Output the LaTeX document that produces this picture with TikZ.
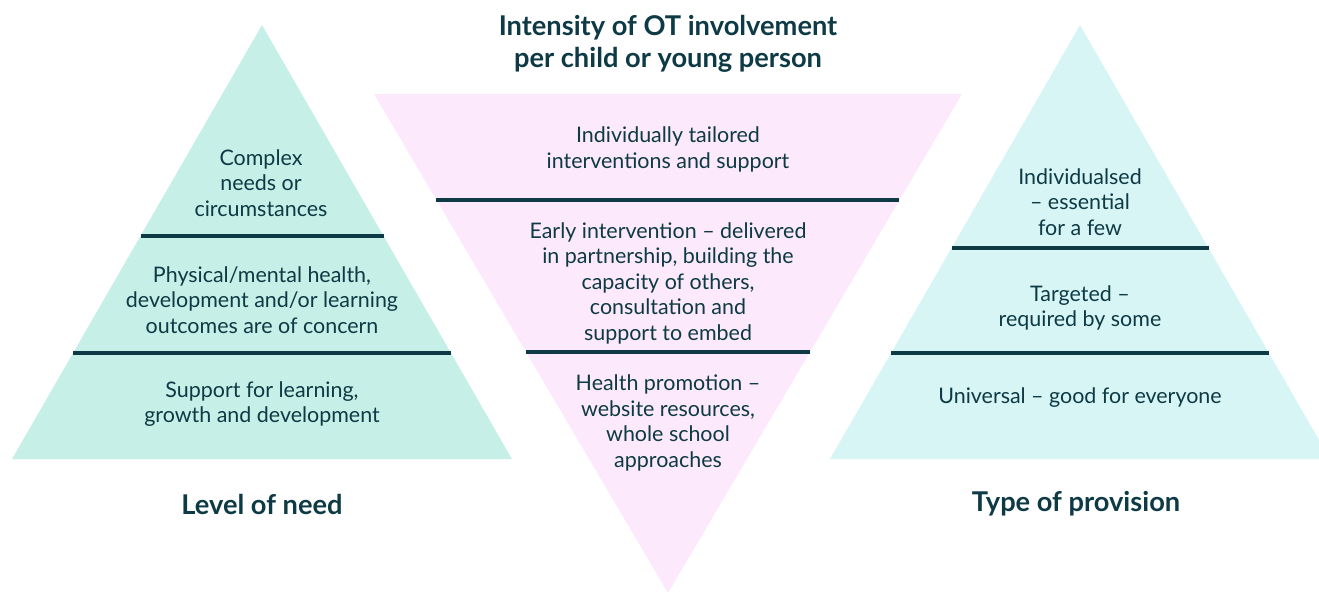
\documentclass[tikz,border=0pt]{standalone}
\usepackage{fontspec}
\setmainfont{Lato}
\usepackage{tikz}
\usepackage{xcolor}
\definecolor{ink}{HTML}{0D3A44}
\definecolor{mint}{HTML}{C6EFE7}
\definecolor{blush}{HTML}{FDE9FC}
\definecolor{aqua}{HTML}{D8F5F6}

\begin{document}
\begin{tikzpicture}[
  tier/.style={align=center, text=ink, font=\fontsize{12.2}{14.5}\selectfont},
  caption/.style={align=center, text=ink, font=\fontsize{15.5}{18.2}\selectfont\bfseries},
  band/.style={draw=ink, line width=2.8pt}]
\useasboundingbox (0,0) rectangle (26.38,11.88);

% level of need
\fill[mint] (0.24,2.70) -- (5.24,11.38) -- (10.24,2.70) -- cycle;
\draw[band] (2.81,7.16) -- (7.67,7.16);
\draw[band] (1.46,4.82) -- (9.02,4.82);

% intensity
\fill[blush] (7.48,10.00) -- (19.24,10.00) -- (13.36,0.02) -- cycle;
\draw[band] (8.72,7.88) -- (17.98,7.88);
\draw[band] (10.52,4.84) -- (16.20,4.84);

% type of provision
\fill[aqua] (16.60,2.70) -- (21.60,11.38) -- (26.60,2.70) -- cycle;
\draw[band] (19.03,6.92) -- (24.17,6.92);
\draw[band] (17.82,4.82) -- (25.38,4.82);

\node[caption] (intensity) at (13.36, 11.00) {Intensity of OT involvement\\per child or young person};
\node[caption] (need) at (5.24, 1.80) {Level of need};
\node[caption] (provision) at (21.52, 1.80) {Type of provision};

\node[tier] (complex) at (5.22, 8.22) {Complex\\needs or\\circumstances};
\node[tier] (concern) at (5.24, 5.88) {Physical/mental health,\\development and/or learning\\outcomes are of concern};
\node[tier] (support) at (5.24, 3.80) {Support for learning,\\growth and development};

\node[tier] (tailored) at (13.36, 8.89) {Individually tailored\\interventions and support};
\node[tier] (early) at (13.36, 6.22) {Early intervention -- delivered\\in partnership, building the\\capacity of others,\\consultation and\\support to embed};
\node[tier] (promotion) at (13.36, 3.42) {Health promotion --\\website resources,\\whole school\\approaches};

\node[tier] (few) at (21.60, 7.84) {Individualsed\\-- essential\\for a few};
\node[tier] (some) at (21.60, 5.72) {Targeted --\\required by some};
\node[tier] (everyone) at (21.60, 3.92) {Universal -- good for everyone};
\end{tikzpicture}
\end{document}
